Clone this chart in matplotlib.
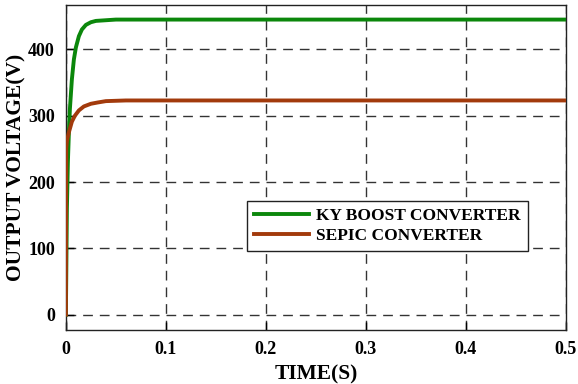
import matplotlib
matplotlib.use("Agg")
import matplotlib.pyplot as plt

# time (s) and output voltage (V)
t_ky = [0, 0.0005, 0.001, 0.002, 0.003, 0.004, 0.006, 0.008, 0.010, 0.013,
        0.016, 0.020, 0.025, 0.030, 0.040, 0.050, 0.5]
v_ky = [0, 80, 160, 230, 275, 310, 355, 385, 403, 420,
        430, 437, 441, 443, 444, 445, 445]

t_sepic = [0, 0.0003, 0.001, 0.003, 0.006, 0.009, 0.013, 0.018, 0.025,
           0.032, 0.040, 0.060, 0.5]
v_sepic = [0, 250, 262, 275, 291, 300, 308, 314, 318,
           320, 322, 323, 323]

xticks = [0, 0.1, 0.2, 0.3, 0.4, 0.5]
xticklabels = ["0", "0.1", "0.2", "0.3", "0.4", "0.5"]
yticks = [0, 100, 200, 300, 400]

plt.rcParams['font.family'] = ['Liberation Serif', 'DejaVu Serif']
plt.rcParams['font.weight'] = 'bold'

fig = plt.figure(figsize=(5.78, 3.84), dpi=100)
ax = fig.add_axes([0.114, 0.141, 0.865, 0.846])

ax.plot(t_ky, v_ky, color='#0b870b', lw=2.8, label='KY BOOST CONVERTER', zorder=3)
ax.plot(t_sepic, v_sepic, color='#a23a0c', lw=2.8, label='SEPIC CONVERTER', zorder=4)

ax.set_xlim(0, 0.5)
ax.set_ylim(-23, 467)
ax.set_xticks(xticks)
ax.set_xticklabels(xticklabels)
ax.set_yticks(yticks)
ax.tick_params(direction='in', length=6, labelsize=13, width=1, pad=8)
for lab in ax.get_xticklabels() + ax.get_yticklabels():
    lab.set_fontweight('bold')

ax.grid(True, color='#333333', linestyle=(0, (7, 5)), linewidth=1.0)
for s in ax.spines.values():
    s.set_linewidth(1.0)
    s.set_color('#222222')

ax.set_xlabel('TIME(S)', fontsize=15.5, fontweight='bold', labelpad=5)
ax.set_ylabel('OUTPUT VOLTAGE(V)', fontsize=15.5, fontweight='bold', labelpad=1)

leg = ax.legend(loc='upper right', bbox_to_anchor=(0.924, 0.397),
                fancybox=False, framealpha=1, edgecolor='#222222',
                prop={'weight': 'bold', 'size': 12.5}, handlelength=3.2,
                borderaxespad=0, labelspacing=0.2, handletextpad=0.4,
                borderpad=0.4)
leg.get_frame().set_linewidth(1.0)

fig.savefig('out.png', dpi=100)
